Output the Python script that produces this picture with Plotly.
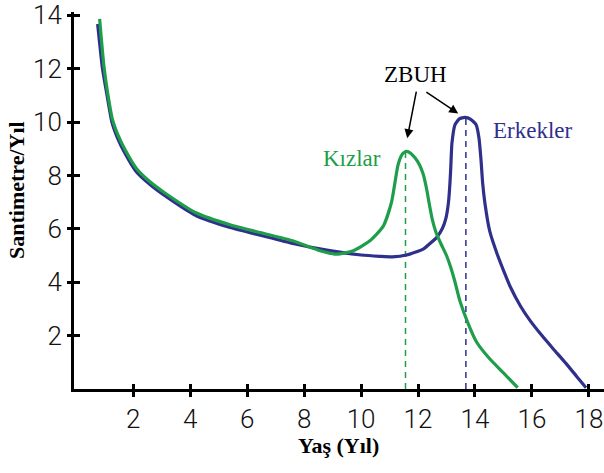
import plotly.graph_objects as go

# Data
erkek_x = [0.75, 0.92, 1.08, 1.25, 1.45, 1.7, 2.1, 2.6, 3.1, 4.2, 5.4, 6.5, 7.6, 8.8, 10.0, 10.66, 11.1,
           11.6, 12.18, 12.42, 12.65, 12.85, 12.98, 13.07, 13.12, 13.15, 13.19, 13.3, 13.45, 13.65,
           13.85, 14.04, 14.14, 14.21, 14.27, 14.35, 14.52, 14.76, 15.05, 15.23, 15.6, 15.93, 16.35,
           16.75, 17.2, 17.57, 17.9]
erkek_y = [13.67, 12.0, 11.0, 10.0, 9.4, 8.85, 8.15, 7.65, 7.25, 6.5, 6.05, 5.75, 5.45, 5.2, 5.02, 4.97, 4.95,
           5.02, 5.24, 5.45, 5.67, 6.0, 6.4, 7.0, 7.7, 8.3, 9.2, 9.9, 10.12, 10.17,
           10.1, 9.9, 9.4, 8.6, 7.7, 6.95, 5.9, 5.11, 4.31, 3.85, 3.1, 2.57, 2.0,
           1.5, 0.95, 0.47, 0.05]

kiz_x = [0.82, 0.97, 1.1, 1.27, 1.47, 1.72, 2.12, 2.6, 3.1, 4.2, 5.4, 6.45, 7.6, 8.56, 9.14, 9.73, 10.31,
         10.78, 11.07, 11.2, 11.3, 11.45, 11.6, 11.75, 11.9, 12.05, 12.18, 12.3, 12.4, 12.5, 12.62,
         12.8, 13.0, 13.15, 13.3, 13.47, 13.76, 14.06, 14.5, 15.0, 15.5]
kiz_y = [13.86, 12.1, 11.1, 10.1, 9.5, 8.95, 8.25, 7.75, 7.35, 6.6, 6.15, 5.86, 5.55, 5.18, 5.05, 5.18, 5.55,
         6.1, 7.0, 7.8, 8.4, 8.8, 8.9, 8.82, 8.65, 8.4, 8.05, 7.5, 6.9, 6.35, 5.9,
         5.45, 5.0, 4.55, 4.0, 3.3, 2.45, 1.75, 1.15, 0.6, 0.05]

zbuh_kiz_age, zbuh_kiz_val = 11.56, 8.9
zbuh_erkek_age, zbuh_erkek_val = 13.68, 10.16

x_ticks = [2, 4, 6, 8, 10, 12, 14, 16, 18]
y_ticks = [2, 4, 6, 8, 10, 12, 14]

GREEN = "#1e9e4a"
BLUE = "#2f2f8c"
X_RANGE = [-0.08, 18.53]
Y_RANGE = [0, 14.12]

fig = go.Figure()
fig.add_trace(go.Scatter(x=[zbuh_kiz_age, zbuh_kiz_age], y=[0, zbuh_kiz_val], mode="lines",
                         line=dict(color=GREEN, width=1.5, dash="6px,5px"), hoverinfo="skip"))
fig.add_trace(go.Scatter(x=[zbuh_erkek_age, zbuh_erkek_age], y=[0, zbuh_erkek_val], mode="lines",
                         line=dict(color=BLUE, width=1.5, dash="6px,5px"), hoverinfo="skip"))
fig.add_trace(go.Scatter(x=erkek_x, y=erkek_y, mode="lines", name="Erkekler",
                         line=dict(color=BLUE, width=3.2, shape="spline", smoothing=0.5)))
fig.add_trace(go.Scatter(x=kiz_x, y=kiz_y, mode="lines", name="Kızlar",
                         line=dict(color=GREEN, width=3.2, shape="spline", smoothing=0.6)))
# empty trace so the overlay axes (inner half of the crossing ticks) are drawn
fig.add_trace(go.Scatter(x=[None], y=[None], xaxis="x2", yaxis="y2", mode="lines",
                         showlegend=False, hoverinfo="skip"))

tickfont = dict(family="Roboto, sans-serif", size=26, color="#111", weight=300)
serif = "Liberation Serif, Times New Roman, serif"

fig.update_layout(
    width=604, height=473,
    margin=dict(l=74, r=0, t=10, b=84),
    paper_bgcolor="white", plot_bgcolor="white",
    showlegend=False,
    xaxis=dict(range=X_RANGE, tickvals=x_ticks, ticktext=[str(v) for v in x_ticks],
               showgrid=False, zeroline=False, showline=True, linecolor="black", linewidth=3,
               ticks="outside", ticklen=5, tickwidth=2.5, tickcolor="black", tickfont=tickfont,
               ticklabeloverflow="allow"),
    yaxis=dict(range=Y_RANGE, tickvals=y_ticks, ticktext=[str(v) for v in y_ticks],
               showgrid=False, zeroline=False, showline=True, linecolor="black", linewidth=3,
               ticks="outside", ticklen=4, tickwidth=2.5, tickcolor="black", tickfont=tickfont,
               ticklabeloverflow="allow"),
    xaxis2=dict(overlaying="x", range=X_RANGE, tickvals=x_ticks,
                showticklabels=False, showgrid=False, zeroline=False, showline=False,
                ticks="inside", ticklen=5, tickwidth=2.5, tickcolor="black", side="bottom", anchor="y2"),
    yaxis2=dict(overlaying="y", range=Y_RANGE, tickvals=y_ticks,
                showticklabels=False, showgrid=False, zeroline=False, showline=False,
                ticks="inside", ticklen=6, tickwidth=2.5, tickcolor="black", side="left", anchor="x2"),
)

annotations = [
    dict(text="<b>Santimetre/Yıl</b>", xref="paper", yref="paper", x=-0.1075, y=0.528,
         textangle=-90, showarrow=False, font=dict(family=serif, size=22, color="black"),
         xanchor="center", yanchor="middle"),
    dict(text="<b>Yaş (Yıl)</b>", xref="paper", yref="paper", x=0.499, y=-0.150,
         showarrow=False, font=dict(family=serif, size=22, color="black"),
         xanchor="center", yanchor="middle"),
    dict(text="ZBUH", xref="x", yref="y", x=(416 - 76.3) / 28.48, y=(389 - 73) / 26.86,
         showarrow=False, font=dict(family=serif, size=23, color="black")),
    dict(text="Kızlar", xref="x", yref="y", x=(352 - 76.3) / 28.48, y=(389 - 157) / 26.86,
         showarrow=False, font=dict(family=serif, size=23, color=GREEN)),
    dict(text="Erkekler", xref="x", yref="y", x=(533 - 76.3) / 28.48, y=(389 - 129) / 26.86,
         showarrow=False, font=dict(family=serif, size=23, color=BLUE)),
    dict(text="", xref="x", yref="y", axref="x", ayref="y", x=11.62, y=9.39, ax=11.95, ay=11.19,
         showarrow=True, arrowhead=2, arrowsize=1.2, arrowwidth=1.5, arrowcolor="black"),
    dict(text="", xref="x", yref="y", axref="x", ayref="y", x=13.41, y=10.32, ax=12.24, ay=11.16,
         showarrow=True, arrowhead=2, arrowsize=1.2, arrowwidth=1.5, arrowcolor="black"),
]
fig.update_layout(annotations=annotations)

fig.write_html("out.html", config={"displayModeBar": False},
               post_script="document.body.style.margin='0';document.body.style.padding='0';")
